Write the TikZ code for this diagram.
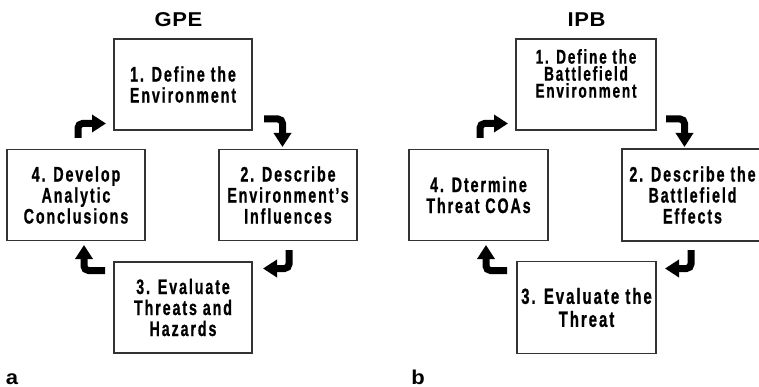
\documentclass[tikz,border=0pt]{standalone}
\usepackage{fontspec}
\usetikzlibrary{arrows.meta}
\newfontfamily\boxfont{Liberation Sans}[FakeStretch=0.68,LetterSpace=9,BoldFeatures={FakeBold=0.8}]
\newfontfamily\titlefont{Liberation Sans}[FakeStretch=1.1,LetterSpace=3]
\begin{document}
\begin{tikzpicture}[x=1pt,y=-1pt,
  boxst/.style={draw=black!80,line width=1.3pt,inner sep=0pt,outer sep=0pt,
    align=center,font=\boxfont\bfseries\fontsize{21}{21}\selectfont},
  wide/.style={minimum width=138pt,minimum height=91pt},
  ttl/.style={font=\titlefont\bfseries\fontsize{20}{22}\selectfont,inner sep=0pt},
  elbow/.style={line width=7pt,rounded corners=4.5pt,
    -{Triangle[width=17pt,length=14pt]}}]
\clip (0,0) rectangle (759,387);
\fill[white] (0,0) rectangle (759,387);
% titles
\node[ttl] (gpe) at (178.5,20) {GPE};
\node[ttl] (ipb) at (586.5,20) {IPB};
\node[ttl] (la) at (12,379) {a};
\node[ttl] (lb) at (418,377) {b};
% panel a boxes
\node[boxst,wide] (b1a) at (183,84.5) {1. Define the\\Environment};
\node[boxst,wide] (b2a) at (288,195) {2. Describe\\Environment’s\\Influences};
\node[boxst,wide] (b3a) at (183,307.5) {3. Evaluate\\Threats and\\Hazards};
\node[boxst,wide] (b4a) at (76,195) {4. Develop\\Analytic\\Conclusions};
% panel b boxes
\node[boxst,minimum width=140pt,minimum height=91pt,
  label={[boxst,draw=none,font=\boxfont\bfseries\fontsize{20}{17}\selectfont,yshift=11pt]center:{1. Define the\\Battlefield\\Environment}}]
  (b1b) at (586,84.5) {};
\node[boxst,minimum width=141pt,minimum height=92pt] (b2b) at (692.5,195) {2. Describe the\\Battlefield\\Effects};
\node[boxst,minimum width=139pt,minimum height=92pt,
  font=\boxfont\bfseries\fontsize{22}{23}\selectfont] (b3b) at (586.5,307.5) {3. Evaluate the\\Threat};
\node[boxst,wide,minimum width=139pt] (b4b) at (478.5,195) {4. Dtermine\\Threat COAs};
% arrow coordinates panel a
\coordinate (a41s) at (78,138);   \coordinate (a41e) at (106,123.5);
\coordinate (a12s) at (264,119);  \coordinate (a12e) at (282.5,147);
\coordinate (a23s) at (289,250);  \coordinate (a23e) at (263,268.5);
\coordinate (a34s) at (105,270.5);\coordinate (a34e) at (84,245);
% arrow coordinates panel b
\coordinate (b41s) at (480,138);  \coordinate (b41e) at (508,123.5);
\coordinate (b12s) at (666,119);  \coordinate (b12e) at (684.5,147);
\coordinate (b23s) at (691,250);  \coordinate (b23e) at (665,268.5);
\coordinate (b34s) at (507,270.5);\coordinate (b34e) at (486,245);
\draw[elbow] (a41s) |- (a41e);
\draw[elbow] (a12s) -| (a12e);
\draw[elbow] (a23s) |- (a23e);
\draw[elbow] (a34s) -| (a34e);
\draw[elbow] (b41s) |- (b41e);
\draw[elbow] (b12s) -| (b12e);
\draw[elbow] (b23s) |- (b23e);
\draw[elbow] (b34s) -| (b34e);
\end{tikzpicture}
\end{document}
